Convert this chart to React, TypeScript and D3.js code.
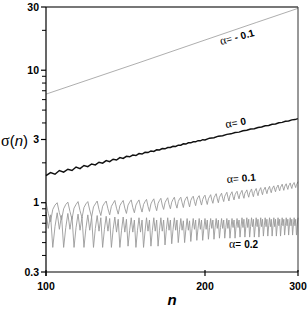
import React from "react";
import { scaleLog, line, range } from "d3";

const width = 307;
const height = 309;

// plot box in page pixels
const left = 46;
const right = 298;
const top = 7;
const bottom = 272;

const axisFont = "Arial, 'Liberation Sans', sans-serif";
const symbolFont = "'Times New Roman', 'Liberation Serif', serif";

// axis ticks
const xTicks = [100, 200, 300];
const xTickLabels = ["100", "200", "300"];
const yTicks = [0.3, 1, 3, 10, 30];
const yTickLabels = ["0.3", "1", "3", "10", "30"];
const yMinorTicks = [0.4, 0.5, 0.6, 0.7, 0.8, 0.9, 2, 4, 5, 6, 7, 8, 9, 20];

// alpha = -0.1 (straight on log-log)
const nMinus01 = [100, 150, 200, 250, 300];
const sigmaMinus01 = [6.6, 11.4, 16.9, 22.9, 29.3];

// alpha = 0 : n = 100..200 step 2, then 204..300 step 4
const nAlpha0 = range(100, 201, 2).concat(range(204, 301, 4));
const sigma0 = [
  1.6, 1.69, 1.64, 1.75, 1.7, 1.79, 1.75, 1.86, 1.81, 1.91,
  1.87, 1.96, 1.93, 2.02, 1.99, 2.08, 2.04, 2.13, 2.1, 2.19,
  2.16, 2.24, 2.22, 2.29, 2.27, 2.35, 2.33, 2.4, 2.39, 2.46,
  2.44, 2.51, 2.5, 2.56, 2.55, 2.61, 2.61, 2.67, 2.66, 2.72,
  2.72, 2.78, 2.77, 2.83, 2.83, 2.88, 2.88, 2.94, 2.93, 2.99,
  2.98,
  3.07, 3.09, 3.18, 3.2, 3.28, 3.31, 3.39, 3.41, 3.49, 3.52,
  3.6, 3.62, 3.7, 3.73, 3.81, 3.83, 3.91, 3.93, 4.01, 4.04,
  4.12, 4.14, 4.22, 4.24, 4.31,
];

// alpha = 0.1 and 0.2 : n = 100..300 step 1
const nDense = range(100, 301);
const sigma01 = [
  1.0, 0.83, 0.72, 0.89, 0.96,
  1.0, 0.84, 0.74, 0.9, 0.97,
  1.01, 0.86, 0.75, 0.91, 0.97,
  1.02, 0.87, 0.77, 0.92, 0.98,
  1.02, 0.88, 0.78, 0.93, 0.98,
  1.03, 0.89, 0.8, 0.94, 0.99,
  1.03, 0.9, 0.81, 0.94, 0.99,
  1.04, 0.91, 0.82, 0.95, 1.0,
  1.04, 0.91, 0.83, 0.96, 1.01,
  1.05, 0.92, 0.84, 0.96, 1.01,
  1.05, 0.93, 0.85, 0.97, 1.02,
  1.06, 0.94, 0.86, 0.98, 1.03,
  1.07, 0.95, 0.87, 0.99, 1.04,
  1.08, 0.96, 0.89, 1.0, 1.05,
  1.09, 0.97, 0.9, 1.01, 1.06,
  1.1, 0.98, 0.91, 1.02, 1.07,
  1.1, 1.0, 0.92, 1.03, 1.08,
  1.11, 1.01, 0.93, 1.04, 1.09,
  1.12, 1.02, 0.95, 1.05, 1.1,
  1.13, 1.03, 0.96, 1.06, 1.11,
  1.14, 1.04, 0.97, 1.07, 1.11,
  1.15, 1.05, 0.99, 1.09, 1.13,
  1.17, 1.07, 1.0, 1.1, 1.14,
  1.18, 1.08, 1.02, 1.12, 1.16,
  1.2, 1.1, 1.03, 1.13, 1.17,
  1.21, 1.11, 1.05, 1.15, 1.19,
  1.22, 1.13, 1.07, 1.16, 1.2,
  1.24, 1.14, 1.08, 1.18, 1.21,
  1.25, 1.16, 1.1, 1.19, 1.23,
  1.27, 1.17, 1.11, 1.21, 1.24,
  1.28, 1.19, 1.13, 1.22, 1.26,
  1.3, 1.21, 1.15, 1.24, 1.27,
  1.31, 1.23, 1.17, 1.25, 1.29,
  1.33, 1.24, 1.19, 1.27, 1.31,
  1.34, 1.26, 1.21, 1.29, 1.32,
  1.36, 1.28, 1.23, 1.31, 1.34,
  1.38, 1.3, 1.24, 1.32, 1.36,
  1.39, 1.31, 1.26, 1.34, 1.37,
  1.41, 1.33, 1.28, 1.36, 1.39,
  1.42, 1.35, 1.3, 1.37, 1.4,
  1.44,
];
const sigma02 = [
  0.85, 0.64, 0.81, 0.46, 0.66,
  0.84, 0.63, 0.8, 0.46, 0.65,
  0.83, 0.63, 0.79, 0.46, 0.65,
  0.82, 0.62, 0.78, 0.46, 0.64,
  0.81, 0.62, 0.78, 0.46, 0.64,
  0.8, 0.61, 0.77, 0.46, 0.63,
  0.79, 0.61, 0.76, 0.46, 0.63,
  0.78, 0.6, 0.75, 0.46, 0.62,
  0.78, 0.6, 0.75, 0.47, 0.62,
  0.77, 0.6, 0.74, 0.46, 0.62,
  0.77, 0.6, 0.74, 0.46, 0.61,
  0.77, 0.61, 0.74, 0.47, 0.62,
  0.77, 0.61, 0.74, 0.47, 0.62,
  0.77, 0.61, 0.74, 0.48, 0.63,
  0.77, 0.62, 0.74, 0.49, 0.63,
  0.77, 0.62, 0.74, 0.5, 0.63,
  0.76, 0.62, 0.73, 0.5, 0.63,
  0.76, 0.62, 0.73, 0.51, 0.64,
  0.76, 0.63, 0.74, 0.52, 0.64,
  0.76, 0.63, 0.74, 0.52, 0.64,
  0.76, 0.63, 0.74, 0.53, 0.65,
  0.76, 0.64, 0.74, 0.53, 0.65,
  0.76, 0.64, 0.74, 0.54, 0.65,
  0.76, 0.64, 0.74, 0.54, 0.65,
  0.76, 0.64, 0.74, 0.54, 0.65,
  0.76, 0.65, 0.74, 0.54, 0.66,
  0.76, 0.65, 0.74, 0.55, 0.66,
  0.77, 0.65, 0.75, 0.55, 0.66,
  0.77, 0.65, 0.75, 0.55, 0.66,
  0.77, 0.66, 0.75, 0.55, 0.66,
  0.77, 0.66, 0.75, 0.55, 0.66,
  0.77, 0.66, 0.75, 0.56, 0.67,
  0.77, 0.66, 0.75, 0.56, 0.67,
  0.77, 0.66, 0.75, 0.56, 0.67,
  0.77, 0.66, 0.75, 0.56, 0.67,
  0.77, 0.67, 0.75, 0.56, 0.67,
  0.77, 0.67, 0.75, 0.57, 0.67,
  0.77, 0.67, 0.75, 0.57, 0.68,
  0.77, 0.67, 0.75, 0.57, 0.68,
  0.77, 0.67, 0.75, 0.57, 0.68,
  0.77,
];

const xScale = scaleLog().domain([100, 300]).range([left, right]);
const yScale = scaleLog().domain([0.3, 30]).range([bottom, top]);

const makePath = (ns: number[], vs: number[]) =>
  line<number>()
    .x((_, i) => xScale(ns[i]))
    .y((d) => yScale(d))(vs) || "";

// curve label: alpha symbol + value
const AlphaLabel = ({ x, y, angle, value }: { x: number; y: number; angle: number; value: string }) => (
  <text transform={`translate(${x},${y}) rotate(${angle})`} fontSize={10} fill="#000">
    <tspan fontFamily={symbolFont} fontSize={12}>α</tspan>
    <tspan fontFamily={axisFont}>=</tspan>
    <tspan fontFamily={axisFont} fontWeight="bold" dx={3}>{value}</tspan>
  </text>
);

export default function App() {
  return (
    <div style={{ position: "absolute", left: 0, top: 0 }}>
      <svg width={width} height={height} style={{ display: "block", background: "#fff" }}>
        {/* data */}
        <path d={makePath(nDense, sigma02)} fill="none" stroke="#9a9a9a" strokeWidth={0.9} />
        <path d={makePath(nDense, sigma01)} fill="none" stroke="#9a9a9a" strokeWidth={0.9} />
        <path d={makePath(nAlpha0, sigma0)} fill="none" stroke="#111" strokeWidth={1.5} />
        <path d={makePath(nMinus01, sigmaMinus01)} fill="none" stroke="#999" strokeWidth={0.8} />

        {/* frame */}
        <line x1={left} x2={right} y1={top} y2={top} stroke="#777" strokeWidth={2} />
        <line x1={right} x2={right} y1={top} y2={bottom} stroke="#333" strokeWidth={1} />
        <line x1={left} x2={left} y1={top} y2={bottom + 4} stroke="#000" strokeWidth={1.2} />
        <line x1={left} x2={right} y1={bottom} y2={bottom} stroke="#000" strokeWidth={1.2} />

        {/* y axis */}
        {yTicks.map((t, i) => (
          <g key={`y${t}`}>
            <line x1={left - 5} x2={left} y1={yScale(t)} y2={yScale(t)} stroke="#000" strokeWidth={1.2} />
            <text
              x={left - 7}
              y={yScale(t)}
              dy="0.36em"
              textAnchor="end"
              fontFamily={axisFont}
              fontWeight="bold"
              fontSize={10.5}
            >
              {yTickLabels[i]}
            </text>
          </g>
        ))}
        {yMinorTicks.map((t) => (
          <line key={`ym${t}`} x1={left - 4} x2={left} y1={yScale(t)} y2={yScale(t)} stroke="#000" strokeWidth={1} />
        ))}

        {/* x axis */}
        {xTicks.map((t, i) => (
          <g key={`x${t}`}>
            <line x1={xScale(t)} x2={xScale(t)} y1={bottom - 2} y2={bottom + 4} stroke="#000" strokeWidth={1.2} />
            <text
              x={xScale(t)}
              y={290}
              textAnchor="middle"
              fontFamily={axisFont}
              fontWeight="bold"
              fontSize={10.5}
            >
              {xTickLabels[i]}
            </text>
          </g>
        ))}

        {/* axis titles */}
        <text x={172} y={305} textAnchor="middle" fontFamily={axisFont} fontStyle="italic" fontWeight="bold" fontSize={15}>
          n
        </text>
        <text x={1} y={146} fontFamily={axisFont} fontSize={15}>
          <tspan fontFamily={symbolFont} fontSize={16}>σ</tspan>
          <tspan>(</tspan>
          <tspan fontStyle="italic">n</tspan>
          <tspan>)</tspan>
        </text>

        {/* curve labels */}
        <AlphaLabel x={221} y={45} angle={-15} value="- 0.1" />
        <AlphaLabel x={226} y={128} angle={-10} value="0" />
        <AlphaLabel x={227} y={183} angle={-5} value="0.1" />
        <AlphaLabel x={229} y={248} angle={0} value="0.2" />
      </svg>
    </div>
  );
}
